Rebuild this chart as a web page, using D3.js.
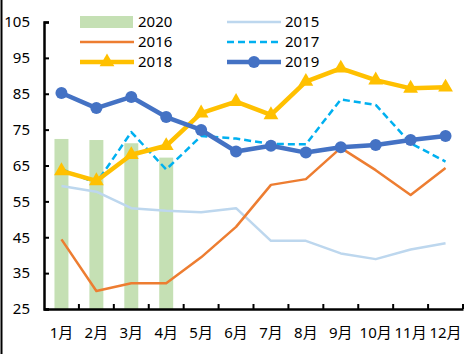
<!DOCTYPE html>
<html>
<head>
<meta charset="utf-8">
<script src="https://cdn.jsdelivr.net/npm/d3@7"></script>
<style>
  body { margin: 0; background: white; }
  text { font-family: "Noto Sans", "Noto Sans CJK SC", sans-serif; font-size: 15px; fill: #000; }
</style>
</head>
<body>
<div id="chart"></div>
<script>
var months = ["1月", "2月", "3月", "4月", "5月", "6月", "7月", "8月", "9月", "10月", "11月", "12月"];
var yTicks = [25, 35, 45, 55, 65, 75, 85, 95, 105];

var v2020 = [72.4, 72.1, 71.2, 67.2];
var v2015 = [59.3, 57.7, 53.1, 52.4, 52.0, 53.1, 44.0, 44.0, 40.5, 38.9, 41.6, 43.3];
var v2016 = [44.4, 30.0, 32.2, 32.2, 39.4, 47.9, 59.6, 61.2, 69.9, 63.7, 56.8, 64.3];
var v2017 = [64.0, 60.1, 74.3, 63.9, 73.2, 72.5, 71.0, 70.9, 83.4, 81.9, 71.2, 66.1];
var v2018 = [63.5, 60.7, 68.0, 70.5, 79.6, 82.8, 79.1, 88.4, 92.1, 88.8, 86.5, 86.8];
var v2019 = [85.2, 81.0, 84.1, 78.5, 74.9, 68.9, 70.5, 68.6, 70.1, 70.7, 72.1, 73.2];

var W = 473, H = 354;
var margin = { left: 44, right: 10, top: 22, bottom: 45 };
var width = 463 - margin.left;
var height = 309 - margin.top;

var svg = d3.select("#chart").append("svg")
  .attr("width", W)
  .attr("height", H);

// left border line
svg.append("line")
  .attr("x1", 1.5).attr("x2", 1.5)
  .attr("y1", 0).attr("y2", H)
  .attr("stroke", "black").attr("stroke-width", 2);

var g = svg.append("g")
  .attr("transform", "translate(" + margin.left + "," + margin.top + ")");

var xscale = d3.scaleBand().domain(months).range([0, width]);
var yscale = d3.scaleLinear().domain([25, 105]).range([height, 0]);

// bars 2020
g.append("g").selectAll("rect")
  .data(v2020)
  .enter().append("rect")
  .attr("x", (d, i) => xscale(months[i]) + xscale.bandwidth() * 0.3)
  .attr("width", xscale.bandwidth() * 0.4)
  .attr("y", d => yscale(d))
  .attr("height", d => height - yscale(d))
  .attr("fill", "#C5E0B4");

// axes
var yAxis = g.append("g")
  .call(d3.axisRight(yscale).tickValues(yTicks).tickSize(5).tickFormat(""));
yAxis.select(".domain").attr("stroke-width", 2.5);
yAxis.selectAll(".tick line").attr("stroke-width", 2);

g.append("g").selectAll("text")
  .data(yTicks)
  .enter().append("text")
  .attr("x", -14)
  .attr("y", d => yscale(d))
  .attr("dy", "0.35em")
  .attr("text-anchor", "end")
  .text(d => d);

var xAxis = g.append("g")
  .attr("transform", "translate(0," + height + ")")
  .call(d3.axisTop(xscale).tickValues([]).tickSizeOuter(0));
xAxis.select(".domain").attr("stroke-width", 2.5);

// tick marks between categories
var edges = months.map(m => xscale(m)).concat([width]).slice(1);
g.append("g").selectAll("line")
  .data(edges)
  .enter().append("line")
  .attr("x1", d => d).attr("x2", d => d)
  .attr("y1", height).attr("y2", height - 5)
  .attr("stroke", "black").attr("stroke-width", 2);

g.append("g").selectAll("text")
  .data(months)
  .enter().append("text")
  .attr("x", d => xscale(d) + xscale.bandwidth() / 2)
  .attr("y", height + 29)
  .attr("text-anchor", "middle")
  .text(d => d);

var line = d3.line()
  .x((d, i) => xscale(months[i]) + xscale.bandwidth() / 2)
  .y(d => yscale(d));

function drawLine(data, color, w, dash) {
  g.append("path")
    .datum(data)
    .attr("fill", "none")
    .attr("stroke", color)
    .attr("stroke-width", w)
    .attr("stroke-linejoin", "round")
    .attr("stroke-dasharray", dash || null)
    .attr("d", line);
}

drawLine(v2015, "#BDD7EE", 2.5);
drawLine(v2016, "#ED7D31", 2.5);
drawLine(v2017, "#00B0F0", 2.5, "7,4");
drawLine(v2018, "#FFC000", 4.5);

var tri = d3.symbol().type(d3.symbolTriangle).size(95);
g.append("g").selectAll("path")
  .data(v2018)
  .enter().append("path")
  .attr("transform", (d, i) => "translate(" + (xscale(months[i]) + xscale.bandwidth() / 2) + "," + yscale(d) + ")")
  .attr("d", tri)
  .attr("fill", "#FFC000");

drawLine(v2019, "#4472C4", 4.5);
g.append("g").selectAll("circle")
  .data(v2019)
  .enter().append("circle")
  .attr("cx", (d, i) => xscale(months[i]) + xscale.bandwidth() / 2)
  .attr("cy", d => yscale(d))
  .attr("r", 6)
  .attr("fill", "#4472C4");

// legend
var legend = [
  { name: "2020", x: 80, y: 22, type: "bar", color: "#C5E0B4" },
  { name: "2015", x: 227, y: 22, type: "line", color: "#BDD7EE", w: 2.5 },
  { name: "2016", x: 80, y: 42, type: "line", color: "#ED7D31", w: 2.5 },
  { name: "2017", x: 227, y: 42, type: "line", color: "#00B0F0", w: 2.5, dash: "7,4" },
  { name: "2018", x: 80, y: 62, type: "tri", color: "#FFC000", w: 4.5 },
  { name: "2019", x: 227, y: 62, type: "circle", color: "#4472C4", w: 4.5 }
];

legend.forEach(function (l) {
  if (l.type == "bar") {
    svg.append("rect")
      .attr("x", l.x).attr("y", l.y - 6)
      .attr("width", 53).attr("height", 12)
      .attr("fill", l.color);
  } else {
    svg.append("line")
      .attr("x1", l.x).attr("x2", l.x + 54)
      .attr("y1", l.y).attr("y2", l.y)
      .attr("stroke", l.color)
      .attr("stroke-width", l.w)
      .attr("stroke-dasharray", l.dash || null);
  }
  if (l.type == "tri") {
    svg.append("path")
      .attr("transform", "translate(" + (l.x + 27) + "," + l.y + ")")
      .attr("d", tri).attr("fill", l.color);
  }
  if (l.type == "circle") {
    svg.append("circle")
      .attr("cx", l.x + 27).attr("cy", l.y).attr("r", 6)
      .attr("fill", l.color);
  }
  svg.append("text")
    .attr("x", l.x + 58).attr("y", l.y)
    .attr("dy", "0.35em")
    .text(l.name);
});
</script>
</body>
</html>
